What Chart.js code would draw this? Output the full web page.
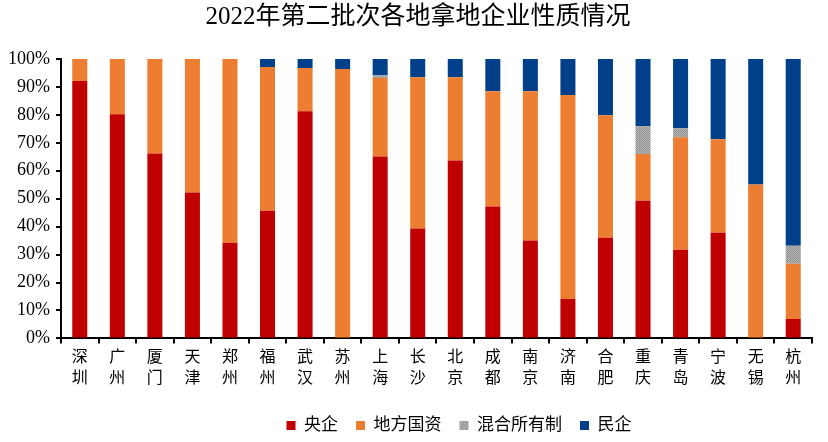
<!DOCTYPE html>
<html>
<head>
<meta charset="utf-8">
<script src="https://cdn.jsdelivr.net/npm/chart.js@4/dist/chart.umd.min.js"></script>
<style>
  html, body { margin: 0; padding: 0; background: #fff; }
  #wrap { width: 828px; height: 442px; }
</style>
</head>
<body>
<div id="wrap"><canvas id="c"></canvas></div>
<script>
// Categories and shares (%)
const cities = ['深圳', '广州', '厦门', '天津', '郑州', '福州', '武汉', '苏州', '上海', '长沙',
                '北京', '成都', '南京', '济南', '合肥', '重庆', '青岛', '宁波', '无锡', '杭州'];
const central  = [92.1, 80.2, 66.2, 52.2, 34.2, 45.7, 81.3, 0,    65.1, 39.3, 63.7, 47.2, 35.0, 14.1, 36.0, 49.3, 31.7, 37.8, 0,    6.9];
const local    = [7.9,  19.8, 33.8, 47.8, 65.8, 51.4, 15.5, 96.4, 28.1, 54.2, 29.8, 41.3, 53.5, 73.0, 43.9, 16.7, 40.3, 33.5, 55.1, 19.8];
const mixed    = [0,    0,    0,    0,    0,    0,    0,    0,    1.0,  0,    0,    0,    0,    0,    0,    9.9,  3.2,  0,    0,    6.5];
const privateCo = [0,   0,    0,    0,    0,    2.9,  3.2,  3.6,  5.8,  6.5,  6.5,  11.5, 11.5, 12.9, 20.1, 24.1, 24.8, 28.7, 44.9, 66.8];
const yTicks = [0, 10, 20, 30, 40, 50, 60, 70, 80, 90, 100];

// dotted grey fill like the original
function greyPattern() {
    const p = document.createElement('canvas');
    p.width = 2; p.height = 2;
    const g = p.getContext('2d');
    g.fillStyle = '#b8b8b8'; g.fillRect(0, 0, 2, 2);
    g.fillStyle = '#8f8f8f'; g.fillRect(0, 0, 1, 1); g.fillRect(1, 1, 1, 1);
    return g.createPattern(p, 'repeat');
}

// the legend in the original sits a bit right of centre and low, title a touch right too
const boxShift = {
    id: 'boxShift',
    afterLayout(chart) {
        chart.legend.left += 52;
        chart.legend.right += 52;
        chart.legend.top += 6;
        chart.legend.bottom += 6;
        chart.titleBlock.left += 11;
        chart.titleBlock.right += 11;
    }
};

const serif = '"Liberation Serif", "Times New Roman", "Noto Sans CJK SC", serif';
const ctx = document.getElementById('c').getContext('2d');
const grey = greyPattern();

new Chart(ctx, {
    type: 'bar',
    data: {
        labels: cities.map(c => c.split('')),
        datasets: [
            { label: '央企', data: central, backgroundColor: '#C00000' },
            { label: '地方国资', data: local, backgroundColor: '#ED7D31' },
            { label: '混合所有制', data: mixed, backgroundColor: grey },
            { label: '民企', data: privateCo, backgroundColor: '#00408A' }
        ]
    },
    options: {
        responsive: true,
        maintainAspectRatio: false,
        animation: false,
        datasets: { bar: { barPercentage: 0.4, categoryPercentage: 1.0 } },
        layout: { padding: { left: 2, right: 16, top: 0, bottom: 4 } },
        scales: {
            x: {
                stacked: true,
                border: { color: '#000', width: 2 },
                grid: { display: true, drawOnChartArea: false, offset: true, color: '#000', lineWidth: 2, tickLength: 5 },
                ticks: { color: '#000', font: { family: serif, size: 16, lineHeight: 1.3 }, maxRotation: 0, padding: 4, autoSkip: false }
            },
            y: {
                stacked: true,
                min: 0,
                max: 100,
                afterBuildTicks: axis => { axis.ticks = yTicks.map(v => ({ value: v })); },
                border: { color: '#000', width: 2 },
                grid: { display: true, drawOnChartArea: false, color: '#000', lineWidth: 2, tickLength: 5 },
                ticks: { color: '#000', font: { family: serif, size: 18 }, padding: 6, callback: v => v + '%' }
            }
        },
        plugins: {
            title: {
                display: true,
                text: '2022年第二批次各地拿地企业性质情况',
                color: '#000',
                font: { family: serif, size: 25, weight: 'normal' },
                padding: { top: 2, bottom: 27 }
            },
            legend: {
                position: 'bottom',
                labels: {
                    color: '#000',
                    font: { family: serif, size: 17 },
                    boxWidth: 9,
                    boxHeight: 9,
                    padding: 18
                }
            },
            tooltip: { mode: 'index', intersect: false }
        }
    },
    plugins: [boxShift]
});
</script>
</body>
</html>
